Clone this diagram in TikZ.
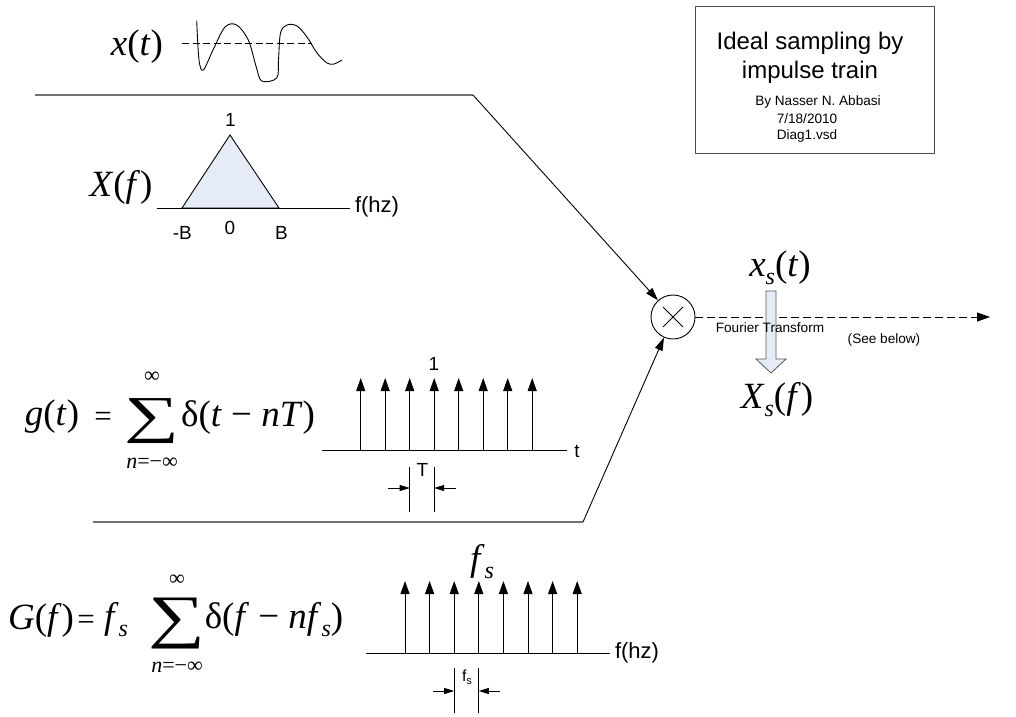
\documentclass[tikz,border=0pt]{standalone}
\usepackage{fontspec}
\setmainfont{Liberation Serif}
\newfontfamily\arialf{Liberation Sans}
\usepackage{graphicx}
\usetikzlibrary{arrows.meta}
\definecolor{pale}{HTML}{E6ECF7}
\newcommand\mysubs[1]{\raisebox{-0.22em}{\fontsize{24}{24}\selectfont\textit{#1}}}
\newcommand\mybigsum[2]{\resizebox*{#1}{#2}{∑}}
\begin{document}
\begin{tikzpicture}[x=1pt,y=-1pt,
  mth/.style={font=\fontsize{37}{40}\selectfont, inner sep=0pt},
  eqs/.style={font=\fontsize{31}{34}\selectfont, inner sep=0pt},
  lim/.style={font=\fontsize{22}{24}\selectfont, inner sep=0pt},
  lbl/.style={font=\arialf\fontsize{19}{22}\selectfont, inner sep=0pt},
  hzlbl/.style={font=\arialf\fontsize{22}{24}\selectfont, inner sep=0pt},
  smalllbl/.style={font=\arialf\fontsize{13.6}{16}\selectfont, inner sep=0pt},
  wire/.style={draw=black!55, line width=1.3pt},
  feed/.style={line width=0.9pt, -{Triangle[length=13pt,width=8pt]}},
  imp/.style={line width=1pt, -{Triangle[length=13pt,width=9pt]}},
  axisln/.style={line width=1pt},
  dimln/.style={line width=0.9pt},
  dimarr/.style={line width=0.9pt, -{Triangle[length=10pt,width=6pt]}},
]
\useasboundingbox (0,0) rectangle (1016,716);

% title box
\node[draw=black!70, line width=1pt, minimum width=239pt, minimum height=147pt, inner sep=0pt] (box) at (814.5,79.5) {};
\node[font=\arialf\fontsize{24}{29}\selectfont, inner sep=0pt] (title1) at (810,43) {Ideal sampling by};
\node[font=\arialf\fontsize{24}{29}\selectfont, inner sep=0pt] (title2) at (810,72) {impulse train};
\node[smalllbl] (by) at (818,102) {By Nasser N. Abbasi};
\node[smalllbl] (date) at (807,119) {7/18/2010};
\node[smalllbl] (file) at (807,136) {Diag1.vsd};

% x(t)
\node[mth] (xt) at (137,46.5) {\textit{x}(\textit{t})};
\coordinate (wz1) at (182,43);
\coordinate (wz2) at (312,43);
\draw[line width=0.9pt, dash pattern=on 7pt off 3.5pt] (wz1) -- (wz2);
\draw[line width=0.9pt] plot[smooth, tension=0.55] coordinates {(196.7,20.7) (199,60) (203.3,70) (213,50) (225,27) (236.7,25) (248.3,40) (256,66) (261.7,81) (276.7,78) (278.5,60) (280.5,33) (287,25) (297,26) (307,37) (317,53) (327,63) (334,64) (342,60)};

% X(f)
\node[mth] (Xf) at (121,187) {\textit{X}(\textit{f})};
\coordinate (fa1) at (157,208);
\coordinate (fa2) at (350,208);
\coordinate (tl) at (182,208);
\coordinate (tt) at (230,135);
\coordinate (tr) at (279,208);
\draw[fill=pale, line width=0.9pt] (tl) -- (tt) -- (tr) -- cycle;
\draw[axisln] (fa1) -- (fa2);
\node[hzlbl] (fhz1) at (377,207) {f(hz)};
\node[lbl] (one1) at (230.5,120) {1};
\node[lbl, anchor=east] (mB) at (192,233) {-B};
\node[lbl] (zero) at (230,228) {0};
\node[lbl] (pB) at (281.5,233) {B};

% top input line
\coordinate (a1) at (35,95);
\coordinate (a2) at (473,95);

% multiplier
\node[draw, circle, line width=0.9pt, minimum size=44pt, inner sep=0pt] (mul) at (673,317) {};
\draw[line width=1pt] (mul.center) +(-10,-10) -- +(10,10);
\draw[line width=1pt] (mul.center) +(-10,10) -- +(10,-10);

\draw[wire] (a1) -- (a2);
\draw[feed] (a2) -- (mul);

% bottom input line
\coordinate (b1) at (93,522);
\coordinate (b2) at (583,522);
\draw[wire] (b1) -- (b2);
\draw[feed] (b2) -- (mul);

% output
\coordinate (out) at (990,317);
\draw[line width=0.9pt, dash pattern=on 8pt off 4pt, -{Triangle[length=13pt,width=9pt]}] (mul) -- (out);
\node[mth] (xst) at (780,268) {\textit{x}\mysubs{s}(\textit{t})};
\draw[fill=pale, draw=black!65, line width=0.8pt] (766,291) -- (776,291) -- (776,359) -- (786,359) -- (771,373) -- (756,359) -- (766,359) -- cycle;
\node[smalllbl] (ft) at (770,328) {Fourier Transform};
\node[smalllbl] (see) at (884,340) {(See below)};
\node[mth] (Xsf) at (777,400) {\textit{X}\mysubs{s}(\textit{f})};

% g(t) formula
\node[mth] (gt) at (52,417) {\textit{g}(\textit{t})};
\node[eqs] (eq1) at (103,419) {=};
\node[inner sep=0pt] (sum1) at (152,421) {\mybigsum{55pt}{45pt}};
\node[lim] (inf1) at (152,377) {∞};
\node[lim] (low1) at (152,463) {\textit{n}=−∞};
\node[mth] (d1) at (248,417) {δ(\textit{t} − \textit{nT})};

% impulse train g(t)
\coordinate (ga1) at (322,450);
\coordinate (ga2) at (567,450);
\draw[axisln] (ga1) -- (ga2);
\foreach \i/\xx in {0/360.7,1/385.2,2/409.7,3/434.2,4/458.7,5/483.2,6/507.7,7/532.2} {
  \coordinate (gb\i) at (\xx,450);
  \coordinate (gtp\i) at (\xx,378);
  \draw[imp] (gb\i) -- (gtp\i);
}
\node[lbl] (tlab) at (577,451) {t};
\node[lbl] (one2) at (434,364) {1};
\coordinate (Tl1) at (409.7,467);
\coordinate (Tl2) at (409.7,512);
\coordinate (Tr1) at (434.2,467);
\coordinate (Tr2) at (434.2,512);
\draw[dimln] (Tl1) -- (Tl2);
\draw[dimln] (Tr1) -- (Tr2);
\coordinate (Ta1) at (388,488);
\coordinate (Ta2) at (409.7,488);
\coordinate (Tb1) at (456,488);
\coordinate (Tb2) at (434.2,488);
\draw[dimarr] (Ta1) -- (Ta2);
\draw[dimarr] (Tb1) -- (Tb2);
\node[lbl] (Tlab) at (422.5,470) {T};

% G(f) formula
\node[mth] (Gf) at (41,620) {\textit{G}(\textit{f})};
\node[eqs] (eq2) at (86,622) {=};
\node[mth] (fs1) at (116,620) {\textit{f}\mysubs{s}};
\node[inner sep=0pt] (sum2) at (177,623) {\mybigsum{57pt}{51pt}};
\node[lim] (inf2) at (177,580) {∞};
\node[lim] (low2) at (177,667) {\textit{n}=−∞};
\node[mth] (d2) at (274,620) {δ(\textit{f} − \textit{nf}\mysubs{s})};

% impulse train G(f)
\coordinate (Ga1) at (366,653);
\coordinate (Ga2) at (610,653);
\draw[axisln] (Ga1) -- (Ga2);
\foreach \i/\xx in {0/405,1/429.6,2/454.2,3/478.8,4/503.4,5/528,6/552.6,7/577.2} {
  \coordinate (Gb\i) at (\xx,653);
  \coordinate (Gtp\i) at (\xx,581);
  \draw[imp] (Gb\i) -- (Gtp\i);
}
\node[hzlbl] (fhz2) at (637,653) {f(hz)};
\node[mth] (fs2) at (482,562) {\textit{f}\mysubs{s}};
\coordinate (Fl1) at (454.2,668);
\coordinate (Fl2) at (454.2,713);
\coordinate (Fr1) at (478.8,668);
\coordinate (Fr2) at (478.8,713);
\draw[dimln] (Fl1) -- (Fl2);
\draw[dimln] (Fr1) -- (Fr2);
\coordinate (Fa1) at (433,691);
\coordinate (Fa2) at (454.2,691);
\coordinate (Fb1) at (500,691);
\coordinate (Fb2) at (478.8,691);
\draw[dimarr] (Fa1) -- (Fa2);
\draw[dimarr] (Fb1) -- (Fb2);
\node[font=\arialf\fontsize{16}{16}\selectfont, inner sep=0pt] (fslab) at (467,677) {f\raisebox{-3pt}{\fontsize{11}{11}\selectfont s}};
\end{tikzpicture}
\end{document}
